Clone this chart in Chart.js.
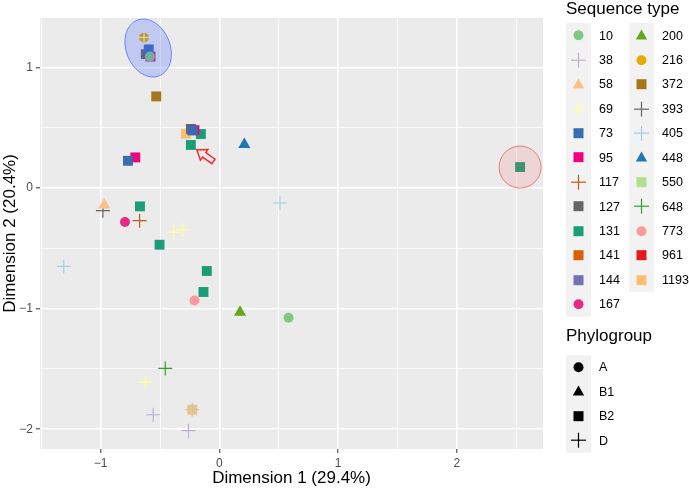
<!DOCTYPE html>
<html>
<head>
<meta charset="utf-8">
<script src="https://cdn.jsdelivr.net/npm/chart.js@4.4.1/dist/chart.umd.min.js"></script>
<style>
  body { margin: 0; background: #fff; font-family: 'Liberation Sans', Arial, sans-serif; }
  #wrap { position: relative; width: 689px; height: 489px; }
  #chart { position: absolute; left: 0; top: 0; }
  .ttl { position: absolute; font-size: 17px; line-height: 17px; color: #000; white-space: nowrap; }
  .col { position: absolute; }
  .row { display: flex; align-items: center; height: 24.45px; }
  .key { width: 25px; height: 24.45px; background: #f2f2f2; }
  .key svg { display: block; }
  .lab { font-size: 12.5px; color: #000; padding-left: 8px; white-space: nowrap; }
</style>
</head>
<body>
<div id="wrap">
  <canvas id="chart" width="689" height="489"></canvas>
  <div class="ttl" style="left:566px;top:0px">Sequence type</div>
  <div class="col" id="stCol1" style="left:566px;top:23.3px"></div>
  <div class="col" id="stCol2" style="left:629px;top:23.3px"></div>
  <div class="ttl" style="left:566px;top:327px">Phylogroup</div>
  <div class="col" id="pgCol" style="left:566px;top:355px"></div>
</div>
<script>
// sequence types, their colour and phylogroup
const seqTypes = ['10', '38', '58', '69', '73', '95', '117', '127', '131', '141', '144', '167',
  '200', '216', '372', '393', '405', '448', '550', '648', '773', '961', '1193'];
const stColors = ['#7fc97f', '#beaed4', '#fdc086', '#ffff99', '#386cb0', '#f0027f', '#bf5b17', '#666666',
  '#1b9e77', '#d95f02', '#7570b3', '#e7298a', '#66a61e', '#e6ab02', '#a6761d', '#666666',
  '#a6cee3', '#1f78b4', '#b2df8a', '#33a02c', '#fb9a99', '#e31a1c', '#fdbf6f'];
const stGroups = ['A', 'D', 'B1', 'D', 'B2', 'B2', 'D', 'B2', 'B2', 'B2', 'B2', 'A',
  'B1', 'A', 'B2', 'D', 'D', 'B1', 'B2', 'D', 'A', 'B2', 'B2'];
const phylogroups = ['A', 'B1', 'B2', 'D'];

// isolates
const pointST = ['216', '69', '73', '127', '95', '10', '372', '1193', '127', '73', '95', '131', '131',
  '448', '73', '95', '58', '393', '131', '167', '117', '69', '69', '131', '405', '405', '131', '131',
  '773', '200', '10', '648', '69', '38', '405', '1193', '38', '131'];
const pointX = [-0.635, -0.635, -0.595, -0.62, -0.58, -0.585, -0.532, -0.281, -0.24, -0.227, -0.21, -0.156, -0.24,
  0.21, -0.77, -0.708, -0.97, -0.981, -0.669, -0.795, -0.672, -0.387, -0.308, -0.504, 0.51, -1.311, -0.106, -0.134,
  -0.21, 0.174, 0.583, -0.456, -0.624, -0.557, -0.229, -0.229, -0.26, 2.533];
const pointY = [1.249, 1.249, 1.15, 1.11, 1.09, 1.09, 0.76, 0.45, 0.49, 0.478, 0.48, 0.448, 0.357,
  0.362, 0.226, 0.254, -0.141, -0.188, -0.152, -0.282, -0.271, -0.365, -0.346, -0.47, -0.124, -0.65, -0.688, -0.862,
  -0.932, -1.03, -1.075, -1.496, -1.612, -1.88, -1.838, -1.838, -2.012, 0.174];

const xTicks = [-1.5, -1, -0.5, 0, 0.5, 1, 1.5, 2, 2.5];
const yTicks = [-2, -1.5, -1, -0.5, 0, 0.5, 1];

const shapeOf = { A: 'circle', B1: 'triangle', B2: 'rect', D: 'cross' };
const radiusOf = { A: 5, B1: 7, B2: 7, D: 7 };

const datasets = seqTypes.map((st, i) => {
  const pts = [];
  pointST.forEach((s, j) => { if (s === st) pts.push({ x: pointX[j], y: pointY[j] }); });
  const g = stGroups[i];
  return {
    label: st,
    data: pts,
    pointStyle: shapeOf[g],
    pointRadius: radiusOf[g],
    backgroundColor: stColors[i],
    borderColor: stColors[i],
    borderWidth: g === 'D' ? 1.2 : 0,
  };
});

// highlight ellipses and the arrow, placed in data units
const highlights = [
  { x: -0.6, y: 1.161, rx: 22, ry: 30, rot: -0.38, fill: 'rgba(70,100,255,0.25)', stroke: 'rgba(90,120,255,0.85)' },
  { x: 2.533, y: 0.174, rx: 21, ry: 21, rot: 0, fill: 'rgba(255,90,90,0.15)', stroke: 'rgba(240,110,110,0.9)' },
];
const arrow = { tipX: -0.19, tipY: 0.318, tailX: -0.05, tailY: 0.221 };

const panelBg = {
  id: 'panelBg',
  beforeDraw(chart) {
    const { ctx, chartArea: a } = chart;
    ctx.save();
    ctx.fillStyle = '#ebebeb';
    ctx.fillRect(a.left, a.top, a.right - a.left, a.bottom - a.top);
    ctx.restore();
  },
};

const marks = {
  id: 'marks',
  afterDatasetsDraw(chart) {
    const { ctx, scales: { x, y } } = chart;
    ctx.save();
    highlights.forEach((h) => {
      ctx.beginPath();
      ctx.ellipse(x.getPixelForValue(h.x), y.getPixelForValue(h.y), h.rx, h.ry, h.rot, 0, Math.PI * 2);
      ctx.fillStyle = h.fill;
      ctx.fill();
      ctx.lineWidth = 1;
      ctx.strokeStyle = h.stroke;
      ctx.stroke();
    });
    // block arrow
    const tx = x.getPixelForValue(arrow.tipX), ty = y.getPixelForValue(arrow.tipY);
    const bx = x.getPixelForValue(arrow.tailX), by = y.getPixelForValue(arrow.tailY);
    const len = Math.hypot(bx - tx, by - ty);
    const ang = Math.atan2(by - ty, bx - tx);
    const head = 9, hw = 6.5, sw = 2.8;
    const poly = [[0, 0], [head, hw], [head, sw], [len, sw], [len, -sw], [head, -sw], [head, -hw]];
    ctx.translate(tx, ty);
    ctx.rotate(ang);
    ctx.beginPath();
    poly.forEach(([u, v], k) => (k ? ctx.lineTo(u, v) : ctx.moveTo(u, v)));
    ctx.closePath();
    ctx.lineWidth = 1.5;
    ctx.strokeStyle = '#ff2a2a';
    ctx.stroke();
    ctx.restore();
  },
};

Chart.defaults.font.family = "'Liberation Sans', Arial, sans-serif";

const axis = (ticks, fit, title) => ({
  type: 'linear',
  afterBuildTicks: (s) => { s.ticks = ticks.map((v) => ({ value: v })); },
  afterFit: fit,
  border: { display: false },
  grid: {
    color: '#ffffff',
    lineWidth: (c) => (Number.isInteger(c.tick && c.tick.value) ? 1.6 : 0.8),
    tickColor: (c) => (Number.isInteger(c.tick && c.tick.value) ? '#333333' : 'rgba(0,0,0,0)'),
    tickLength: 4,
    tickWidth: 1,
  },
  ticks: {
    color: '#4d4d4d',
    font: { size: 12 },
    padding: 3,
    maxRotation: 0,
    autoSkip: false,
    callback: (v) => (Number.isInteger(v) ? String(v).replace('-', '\u2212') : ''),
  },
  title: { display: true, text: title, color: '#000', font: { size: 17 }, padding: 0 },
});

new Chart(document.getElementById('chart'), {
  type: 'scatter',
  data: { datasets },
  options: {
    responsive: false,
    animation: false,
    layout: { padding: { top: 18, right: 146, left: 0, bottom: 0 } },
    plugins: { legend: { display: false }, tooltip: { enabled: false } },
    scales: {
      x: Object.assign(axis(xTicks, (s) => { s.height = 40; }, 'Dimension 1 (29.4%)'), { min: -1.511, max: 2.726 }),
      y: Object.assign(axis(yTicks, (s) => { s.width = 40; }, 'Dimension 2 (20.4%)'), { min: -2.164, max: 1.41 }),
    },
  },
  plugins: [panelBg, marks],
});

// legend
function symbol(group, color) {
  let inner = '';
  if (group === 'A') inner = `<circle cx="12.5" cy="12.2" r="5" fill="${color}"/>`;
  else if (group === 'B1') inner = `<polygon points="12.5,6.5 6.8,16.6 18.2,16.6" fill="${color}"/>`;
  else if (group === 'B2') inner = `<rect x="7.5" y="7.2" width="10" height="10" fill="${color}"/>`;
  else inner = `<line x1="5" y1="12.2" x2="20" y2="12.2" stroke="${color}" stroke-width="1.2"/>` +
    `<line x1="12.5" y1="4.7" x2="12.5" y2="19.7" stroke="${color}" stroke-width="1.2"/>`;
  return `<svg width="25" height="24.45">${inner}</svg>`;
}
function row(group, color, text) {
  return `<div class="row"><div class="key">${symbol(group, color)}</div><div class="lab">${text}</div></div>`;
}
document.getElementById('stCol1').innerHTML = seqTypes.slice(0, 12)
  .map((st, i) => row(stGroups[i], stColors[i], st)).join('');
document.getElementById('stCol2').innerHTML = seqTypes.slice(12)
  .map((st, i) => row(stGroups[i + 12], stColors[i + 12], st)).join('');
document.getElementById('pgCol').innerHTML = phylogroups.map((g) => row(g, '#000', g)).join('');
</script>
</body>
</html>
